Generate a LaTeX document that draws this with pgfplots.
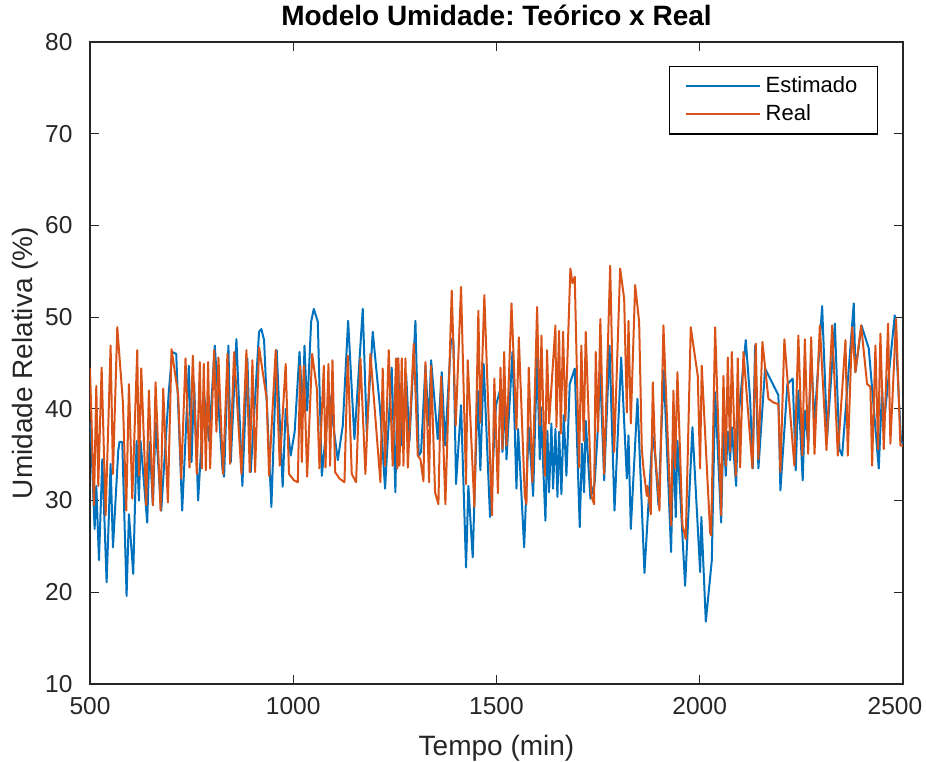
\documentclass[border=0pt]{standalone}
\usepackage{fontspec}
\setmainfont{Liberation Sans}
\usepackage{pgfplots}
\pgfplotsset{compat=1.18}
\definecolor{mblue}{rgb}{0,0.447,0.741}
\definecolor{morange}{rgb}{0.85,0.325,0.098}
\definecolor{axgray}{rgb}{0.15,0.15,0.15}
\frenchspacing
\begin{document}
\begin{tikzpicture}
\useasboundingbox (-36pt,-31.2pt) rectangle (334.4pt,273.6pt);
\begin{axis}[
  scale only axis,
  width=325.2pt, height=256.8pt,
  xmin=500, xmax=2500, ymin=10, ymax=80,
  xtick={500,1000,...,2500}, ytick={10,20,...,80},
  xticklabels={500,1000,1500,2000,{\hspace*{-6.4pt}2500}},
  tick align=inside,
  major tick length=3.6pt,
  axis line style={axgray, line width=0.5pt},
  every tick/.style={axgray, line width=0.5pt},
  /pgf/number format/assume math mode=true,
  /pgf/number format/1000 sep={},
  tick label style={font=\fontsize{9.8}{12}\selectfont, text=axgray},
  xticklabel style={yshift=-2pt},
  yticklabel style={xshift=-3.5pt},
  xlabel={Tempo (min)},
  ylabel={Umidade Relativa (\%)},
  label style={font=\fontsize{11.2}{13}\selectfont, text=axgray},
  xlabel style={yshift=-1pt},
  ylabel style={yshift=-4pt},
  title={\textbf{Modelo Umidade: Teórico x Real}},
  title style={font=\fontsize{11.2}{13}\selectfont, yshift=-3pt},
  legend style={at={(rel axis cs:1,1)}, anchor=north east, xshift=-9.8pt, yshift=-9.6pt,
    draw=black, line width=0.5pt, font=\fontsize{8.8}{10}\selectfont, inner xsep=6.2pt, inner ysep=2pt,
    row sep=-0.8pt},
  legend cell align=left,
  legend image code/.code={\draw[#1, line width=0.8pt] (0pt,0pt) -- (29.6pt,0pt);},
  every axis plot/.append style={line join=round},
]
\addplot[mblue, line width=0.8pt] coordinates {
(500,38.5)(501.6,38.2)(511.4,26.9)(515.5,31.6)(522.1,23.5)(530.3,34.5)(540.9,21.1)(550.7,34.0)(556.5,24.9)(569.6,35.5)(572.8,36.4)(579.4,36.4)(590.0,19.6)(595.8,28.5)(606.4,22.0)(614.6,36.5)(620.4,30.0)(624.4,36.5)(640.8,27.6)(646.6,36.4)(654.7,29.5)(661.3,38.5)(675.2,28.9)(694.1,42.0)(702.3,46.2)(712.1,46.0)(726.8,28.9)(743.2,44.7)(749.8,34.2)
(756.2,42.9)(766.0,30.0)(780.8,41.5)(793.0,36.5)(807.0,46.9)(825.8,33.5)(829.9,32.6)(840.5,46.9)(846.3,34.2)(860.2,47.6)(874.9,31.6)(887.2,45.5)(895.4,33.1)(915.9,48.4)(921.6,48.7)(928.2,47.5)(946.2,29.3)(959.3,46.4)(974.0,31.5)(981.4,40.0)(993.7,34.9)(1003.5,37.5)
(1015.4,46.2)(1023.6,39.6)(1027.7,46.9)(1034.2,39.8)(1044.0,49.5)(1050.6,50.9)(1060.4,49.5)(1070.3,32.7)(1089.1,41.5)(1109.6,34.4)(1121.9,38.2)(1135.0,49.6)(1150.5,36.7)(1171.0,50.9)(1180.8,37.5)(1195.6,48.4)(1213.6,40.0)(1225.9,31.3)(1242.2,44.5)(1251.3,30.9)
(1257.2,45.5)(1265.4,36.0)(1277.7,43.8)(1285.9,36.5)(1300.6,49.6)(1308.8,34.9)(1314.5,35.3)(1325.2,44.7)(1333.4,38.2)(1339.1,45.3)(1355.5,36.7)(1365.3,44.0)(1373.5,36.0)(1388.2,47.6)(1394.0,47.5)(1400.5,31.8)(1412.8,40.4)(1425.1,22.7)(1430.8,31.6)(1441.5,23.8)(1453.8,42.0)(1460.3,33.3)(1468.5,44.9)(1484.1,28.2)(1498.8,40.4)
(1509.8,42.2)(1514.7,35.3)(1520.5,41.5)(1524.6,34.5)(1539.3,46.2)(1549.1,31.3)(1553.2,37.8)(1568.0,24.9)(1579.4,38.0)(1590.1,30.5)(1599.9,45.8)(1606.5,34.5)(1608.9,40.2)(1620.4,27.8)(1625.3,37.6)(1629.4,30.9)(1635.1,38.4)(1639.2,31.3)(1645.0,37.8)(1649.9,30.4)(1654.0,37.5)(1659.7,30.7)(1665.4,39.3)(1672.0,32.7)(1680.2,42.7)(1692.5,44.4)(1704.8,27.1)(1710.5,36.2)(1715.4,30.9)(1719.5,38.7)(1731.0,30.2)(1741.6,32.0)(1748.2,36.9)(1753.9,42.9)
(1755.1,44.0)(1764.9,32.2)(1778.0,46.9)(1790.3,28.9)(1806.7,45.6)(1820.6,32.4)(1824.7,37.1)(1830.4,26.9)(1846.8,41.1)(1864.0,22.1)(1883.7,37.1)(1890.2,35.0)(1898.4,29.5)(1911.5,44.2)(1929.5,24.4)(1935.3,36.5)(1941.0,28.2)(1945.1,36.5)(1964.0,20.7)(1982.0,38.0)(2001.0,22.2)
(2004.0,28.2)(2014.9,16.8)(2029.7,23.5)(2037.9,41.8)(2052.6,27.6)(2058.3,37.8)(2064.1,32.7)(2069.0,37.5)(2074.7,34.4)(2078.8,38.0)(2089.5,31.6)(2093.5,38.2)(2113.2,47.5)(2123.9,41.1)(2130.4,33.5)(2136.1,46.9)(2144.3,33.5)(2160.7,44.4)(2193.5,41.5)(2198.4,31.1)(2215.6,42.7)(2228.7,43.3)(2236.1,33.3)(2242.6,42.0)(2253.3,32.2)
(2258.6,39.8)(2266.7,36.2)(2274.1,45.8)(2282.3,38.6)(2301.1,51.2)(2313.4,36.9)(2332.3,49.3)(2343.7,35.6)(2350.3,34.9)(2378.9,51.5)(2383.0,44.0)(2397.8,49.1)(2415.8,46.6)(2440.4,33.5)(2448.6,42.2)(2452.7,38.2)(2479.7,50.2)(2495.2,36.4)(2500,36.2)
};
\addlegendentry{Estimado}
\addplot[morange, line width=0.8pt] coordinates {
(500,44.4)(509.8,29.5)(515.5,42.5)(520.4,31.6)(528.6,44.5)(538.5,28.4)(550.7,46.9)(556.5,32.9)(567.1,48.9)(581.0,40.7)(589.2,28.9)(595.8,42.7)(604.0,30.2)(616.3,46.4)(620.4,32.7)(626.1,44.4)(638.4,29.5)(644.9,42.0)(654.7,29.5)(661.3,42.9)(673.6,28.9)(680.1,42.2)(691.6,29.8)(700.6,46.5)(717.0,41.5)(724.4,32.4)(735.0,45.5)(744.8,33.6)(753.0,45.8)
(762.7,32.9)(770.1,45.1)(775.0,33.5)(779.9,44.9)(784.9,33.3)(790.6,45.1)(795.5,33.5)(805.3,46.4)(811.1,37.5)(816.0,45.6)(827.4,32.9)(838.1,46.0)(844.6,34.0)(854.5,46.2)(872.5,32.9)(884.8,46.4)(893.0,33.1)(899.5,45.3)(906.1,33.1)(915.9,46.7)(934.7,41.1)(940.5,32.7)(956.8,46.4)(966.7,33.8)(981.4,44.9)(989.6,32.9)(1001.9,32.2)
(1011.3,32.0)(1017.0,44.7)(1021.1,34.2)(1026.0,44.7)(1034.2,32.6)(1046.5,46.0)(1058.0,42.2)(1064.5,33.5)(1075.2,44.7)(1079.3,33.6)(1086.6,44.9)(1090.7,33.8)(1096.5,45.3)(1103.0,33.1)(1113.7,32.4)(1126.0,32.0)(1134.1,45.8)(1144.0,32.9)(1154.6,32.0)(1165.3,45.5)(1177.5,32.9)(1189.8,46.0)(1214.4,32.0)(1220.1,44.4)(1225.9,33.8)(1234.9,46.4)(1244.7,33.8)(1252.9,45.5)
(1256.0,33.5)(1258.8,45.5)(1261.3,33.8)(1267.0,45.5)(1271.1,33.8)(1276.0,45.5)(1281.8,33.6)(1296.5,47.1)(1306.3,34.9)(1312.9,34.5)(1320.3,32.1)(1325.2,45.1)(1334.2,32.0)(1339.1,44.7)(1348.9,30.9)(1357.1,29.6)(1363.7,43.5)(1374.3,29.6)(1389.9,52.9)(1399.7,38.2)(1412.8,53.3)(1425.1,31.8)(1429.2,45.3)(1445.6,29.3)(1455.4,50.7)(1460.3,38.5)(1470.1,52.4)(1489.0,28.4)(1494.7,43.3)(1503.5,30.8)
(1509.8,44.5)(1514.7,35.6)(1518.8,46.2)(1524.6,36.0)(1536.9,51.5)(1549.1,37.8)(1554.9,47.8)(1569.6,30.5)(1573.7,29.6)(1579.4,44.5)(1588.5,32.0)(1599.9,51.1)(1606.5,38.2)(1610.6,48.0)(1618.8,32.7)(1624.5,46.4)(1629.4,38.4)(1645.0,49.1)(1647.4,38.0)(1654.0,48.5)(1658.1,37.3)(1663.8,48.4)(1669.5,38.7)(1681.8,55.3)(1686.7,53.7)(1692.5,54.4)(1703.1,33.6)(1708.8,46.9)(1714.6,36.5)(1719.5,48.4)(1733.4,30.5)(1740.0,29.6)(1744.1,46.2)(1749.8,37.5)(1755.5,49.8)
(1764.9,32.9)(1779.7,55.6)(1789.5,35.3)(1804.2,55.3)(1814.1,52.0)(1820.6,39.6)(1824.7,49.6)(1830.4,38.4)(1841.1,53.5)(1850.9,49.5)(1857.5,35.6)(1861.6,33.5)(1869.8,30.5)(1871.4,31.6)(1879.6,28.5)(1884.5,42.9)(1890.2,35.3)(1900.9,28.9)(1910.7,49.1)(1929.5,27.3)(1935.3,42.0)(1939.4,33.5)(1945.1,44.0)(1957.4,27.3)(1965.6,25.8)(1977.9,48.9)(1995.1,43.6)(2000.8,33.5)(2004.9,44.7)
(2025.6,26.5)(2028.0,26.2)(2037.9,48.9)(2052.6,28.4)(2058.3,43.6)(2064.1,33.8)(2069.0,45.6)(2074.7,35.3)(2078.8,46.2)(2088.6,32.7)(2093.5,45.5)(2099.3,33.6)(2107.5,46.2)(2129.6,33.5)(2137.8,47.1)(2144.3,34.5)(2154.2,47.3)(2168.9,41.1)(2181.2,40.7)(2193.5,40.5)(2198.4,33.1)(2208.2,47.6)(2218.0,42.0)(2232.8,33.8)(2242.6,48.0)(2252.4,34.9)
(2258.6,47.6)(2266.7,35.1)(2274.1,47.8)(2282.3,35.1)(2295.4,49.1)(2311.8,35.5)(2325.7,49.1)(2339.6,34.9)(2358.5,47.5)(2364.2,34.9)(2374.9,48.9)(2383.0,44.0)(2397.0,49.1)(2411.7,42.7)(2419.9,42.4)(2424.0,33.8)(2432.2,46.9)(2438.7,35.6)(2444.5,48.2)(2452.7,35.6)(2463.3,49.3)(2469.0,36.2)(2483.0,49.8)(2493.6,36.0)(2500,36.0)
};
\addlegendentry{Real}
\end{axis}
\end{tikzpicture}
\end{document}
